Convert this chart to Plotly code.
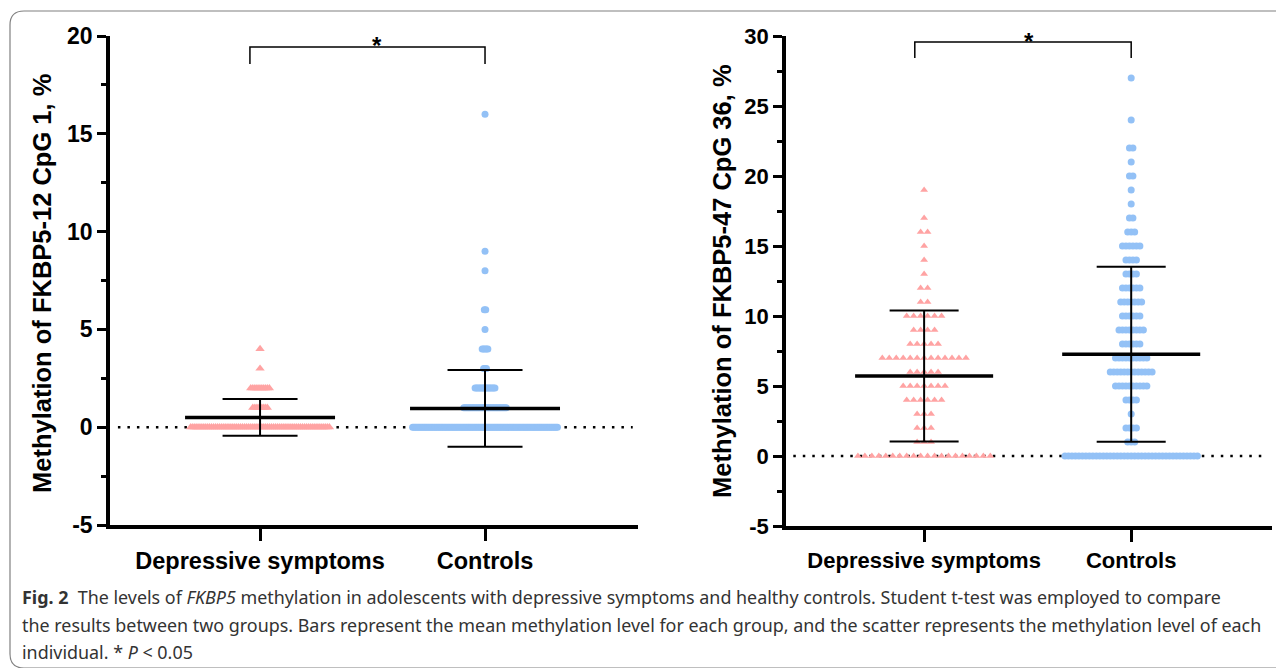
import plotly.graph_objects as go

# ---------------- data ----------------
categories = ["Depressive symptoms", "Controls"]

# Panel A: FKBP5-12 CpG 1 (values in %, counts = number of individuals at that value)
a_dep_values = [0, 1, 2, 3, 4]
a_dep_counts = [68, 8, 10, 1, 1]
a_ctl_values = [0, 1, 2, 3, 4, 5, 6, 8, 9, 16]
a_ctl_counts = [103, 31, 15, 3, 5, 1, 2, 1, 1, 1]
a_mean = [0.50, 0.96]
a_sd = [0.94, 1.96]

# Panel B: FKBP5-47 CpG 36
b_dep_values = [0, 1, 2, 3, 4, 5, 6, 7, 8, 9, 10, 11, 12, 13, 14, 15, 16, 17, 19]
b_dep_counts = [20, 3, 3, 3, 6, 7, 5, 13, 5, 4, 6, 2, 2, 1, 1, 1, 2, 1, 1]
b_ctl_values = [0, 1, 2, 3, 4, 5, 6, 7, 8, 9, 10, 11, 12, 13, 14, 15, 16, 17, 18, 19, 20, 21, 22, 24, 27]
b_ctl_counts = [39, 3, 4, 1, 4, 10, 13, 10, 6, 8, 6, 7, 6, 4, 4, 6, 3, 2, 1, 1, 2, 1, 2, 1, 1]
b_mean = [5.71, 7.27]
b_sd = [4.68, 6.25]

a_yticks = [-5, 0, 5, 10, 15, 20]
b_yticks = [-5, 0, 5, 10, 15, 20, 25, 30]

a_ytitle = "Methylation of FKBP5-12 CpG 1, %"
b_ytitle = "Methylation of FKBP5-47 CpG 36, %"

caption_lines = [
    "<b>Fig. 2</b>\u00a0\u00a0The levels of <i>FKBP5</i> methylation in adolescents with depressive symptoms and healthy controls. Student t-test was employed to compare",
    "the results between two groups. Bars represent the mean methylation level for each group, and the scatter represents the methylation level of each",
    "individual. * <i>P</i> &lt; 0.05",
]

# ---------------- styling ----------------
OFF = 8                      # the page body margin of the browser
W, H = 1284 - OFF, 668 - OFF
PINK = "#FFA3A3"
BLUE = "#93C1F6"
FONT = "Liberation Sans"
XR = [-0.667, 1.68]


def px_x(p):
    return (p - OFF) / W


def px_y(p):
    return 1 - (p - OFF) / H


def rows(center, values, counts, spacing):
    xs, ys = [], []
    for v, n in zip(values, counts):
        for i in range(n):
            xs.append(center + (i - (n - 1) / 2) * spacing)
            ys.append(v)
    return xs, ys


def bars(means, sds):
    xs, ys = [], []
    for i, (m, s) in enumerate(zip(means, sds)):
        xs += [i, i, None, i - 1 / 6, i + 1 / 6, None, i - 1 / 6, i + 1 / 6, None]
        ys += [m - s, m + s, None, m + s, m + s, None, m - s, m - s, None]
    mx, my = [], []
    for i, m in enumerate(means):
        mx += [i - 1 / 3, i + 1 / 3, None]
        my += [m, m, None]
    return (xs, ys), (mx, my)


fig = go.Figure()

panels = [
    dict(xa="x", ya="y", dep=(a_dep_values, a_dep_counts), ctl=(a_ctl_values, a_ctl_counts),
         mean=a_mean, sd=a_sd, sp_dep=2.07 / 225, sp_ctl=1.42 / 225, tri=8.2, dot=7),
    dict(xa="x2", ya="y2", dep=(b_dep_values, b_dep_counts), ctl=(b_ctl_values, b_ctl_counts),
         mean=b_mean, sd=b_sd, sp_dep=7.0 / 208, sp_ctl=3.5 / 208, tri=6.8, dot=7),
]

for p in panels:
    xs, ys = rows(0, p["dep"][0], p["dep"][1], p["sp_dep"])
    fig.add_trace(go.Scatter(x=xs, y=ys, mode="markers", xaxis=p["xa"], yaxis=p["ya"],
                             marker=dict(symbol="triangle-up", size=p["tri"], color=PINK, line=dict(width=0)),
                             showlegend=False, hoverinfo="skip"))
    xs, ys = rows(1, p["ctl"][0], p["ctl"][1], p["sp_ctl"])
    fig.add_trace(go.Scatter(x=xs, y=ys, mode="markers", xaxis=p["xa"], yaxis=p["ya"],
                             marker=dict(symbol="circle", size=p["dot"], color=BLUE, line=dict(width=0)),
                             showlegend=False, hoverinfo="skip"))
    (sx, sy), (mx, my) = bars(p["mean"], p["sd"])
    fig.add_trace(go.Scatter(x=sx, y=sy, mode="lines", xaxis=p["xa"], yaxis=p["ya"],
                             line=dict(color="black", width=2), showlegend=False, hoverinfo="skip"))
    fig.add_trace(go.Scatter(x=mx, y=my, mode="lines", xaxis=p["xa"], yaxis=p["ya"],
                             line=dict(color="black", width=3.5), showlegend=False, hoverinfo="skip"))

# significance brackets (between the two categories)
brackets = [("x", "y", 19.44, 18.57, 0.52), ("x2", "y2", 29.57, 28.43, 0.505)]
for xa, ya, ytop, ybot, sx in brackets:
    fig.add_trace(go.Scatter(x=[-0.045, -0.045, 1, 1], y=[ybot, ytop, ytop, ybot], mode="lines",
                             xaxis=xa, yaxis=ya, line=dict(color="black", width=1.5),
                             showlegend=False, hoverinfo="skip", cliponaxis=False))
    fig.add_annotation(x=sx, y=ytop, xref=xa, yref=ya, text="<b>*</b>", showarrow=False,
                       yanchor="middle", yshift=1, font=dict(family=FONT, size=24, color="black"))

common_x = dict(range=XR, tickvals=[0, 1], ticktext=categories, ticks="outside", ticklen=12,
                tickwidth=3, tickcolor="black", showline=True, linewidth=3.5, linecolor="black",
                showgrid=False, zeroline=False, automargin=False, fixedrange=True)
common_y = dict(ticks="outside", ticklen=9, tickwidth=3, tickcolor="black", showline=True,
                linewidth=3.5, linecolor="black", showgrid=False, zeroline=False, automargin=False)

fig.update_layout(
    width=W, height=H, margin=dict(l=0, r=0, t=0, b=0),
    paper_bgcolor="white", plot_bgcolor="rgba(0,0,0,0)", template="none",
    xaxis=dict(domain=[px_x(110), px_x(638)], anchor="y",
               tickfont=dict(family=FONT, size=23.5, color="black", weight="bold"), **common_x),
    yaxis=dict(domain=[px_y(525), px_y(36)], anchor="x", range=[-5, 20], tickvals=a_yticks,
               ticktext=[str(v) for v in a_yticks],
               minor=dict(tickvals=[v + 2.5 for v in a_yticks[:-1]], ticks="outside", ticklen=5,
                          tickwidth=3, tickcolor="black"),
               tickfont=dict(family=FONT, size=23, color="black", weight="bold"), **common_y),
    xaxis2=dict(domain=[px_x(786), px_x(1272)], anchor="y2",
                tickfont=dict(family=FONT, size=22, color="black", weight="bold"), **common_x),
    yaxis2=dict(domain=[px_y(526), px_y(36)], anchor="x2", range=[-5, 30], tickvals=b_yticks,
                ticktext=[str(v) for v in b_yticks],
                minor=dict(tickvals=[v + 2.5 for v in b_yticks[:-1]], ticks="outside", ticklen=5,
                           tickwidth=3, tickcolor="black"),
                tickfont=dict(family=FONT, size=22, color="black", weight="bold"), **common_y),
)

# dotted zero lines
for xa, ya in [("x", "y"), ("x2", "y2")]:
    fig.add_shape(type="line", xref=xa + " domain", yref=ya, x0=0.015, x1=0.99, y0=0, y1=0,
                  line=dict(color="black", width=2.5, dash="2.5px,7px"), layer="below")

# axis titles
fig.add_annotation(x=px_x(42), y=px_y(284), xref="paper", yref="paper", text="<b>" + a_ytitle + "</b>",
                   textangle=-90, showarrow=False, xanchor="center", yanchor="middle",
                   font=dict(family=FONT, size=25.5, color="black"))
fig.add_annotation(x=px_x(722), y=px_y(281), xref="paper", yref="paper", text="<b>" + b_ytitle + "</b>",
                   textangle=-90, showarrow=False, xanchor="center", yanchor="middle",
                   font=dict(family=FONT, size=25.5, color="black"))

# caption
for i, line in enumerate(caption_lines):
    fig.add_annotation(x=px_x(20), y=px_y(597 + 27.5 * i), xref="paper", yref="paper", text=line,
                       xanchor="left", yanchor="middle", showarrow=False, align="left",
                       font=dict(family="Noto Sans", size=17.9, color="#333333"))

# rounded frame
fig.add_shape(type="path", xref="paper", yref="paper",
              path=f"M {px_x(1300)},{px_y(11)} L {px_x(24)},{px_y(11)} Q {px_x(10)},{px_y(11)} {px_x(10)},{px_y(25)} "
                   f"L {px_x(10)},{px_y(654)} Q {px_x(10)},{px_y(668)} {px_x(24)},{px_y(668)} L {px_x(1300)},{px_y(668)}",
              line=dict(color="#808080", width=1.2))

fig.write_html("out.html")
